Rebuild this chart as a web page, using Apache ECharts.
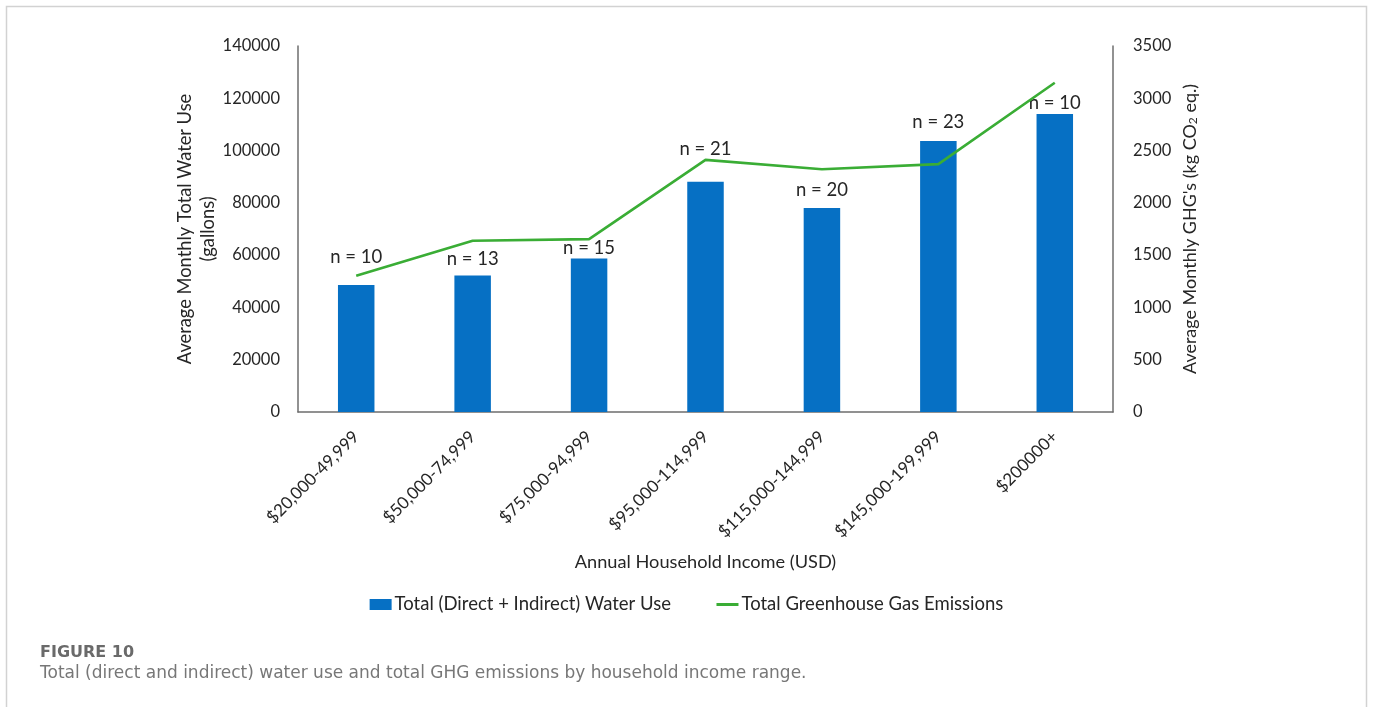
<!DOCTYPE html>
<html>
<head>
<meta charset="utf-8">
<title>Water use and GHG emissions by household income</title>
<script src="https://cdn.jsdelivr.net/npm/echarts@6/dist/echarts.min.js"></script>
<style>
  html, body { margin: 0; padding: 0; background: #ffffff; }
  #chart { width: 1373px; height: 707px; }
</style>
</head>
<body>
<div id="chart"></div>
<script>
// Income brackets on the category axis
const categories = [
  '$20,000-49,999', '$50,000-74,999', '$75,000-94,999', '$95,000-114,999',
  '$115,000-144,999', '$145,000-199,999', '$200000+'
];
// Average monthly total (direct + indirect) water use, gallons
const waterUse = [48600, 52200, 58700, 88100, 78000, 103700, 114000];
// Average monthly GHG emissions, kg CO2 eq.
const ghgEmissions = [1303, 1637, 1653, 2411, 2322, 2370, 3149];
// Households surveyed in each bracket
const sampleSizes = [10, 13, 15, 21, 20, 23, 10];
// Gap (px) between each bar top and its "n =" label
const labelLift = [18, 7, 1, 23, 9, 9, 1];

const leftTicks = { min: 0, max: 140000, interval: 20000 };
const rightTicks = { min: 0, max: 3500, interval: 500 };

const FONT = 'Lato';
const TEXT = '#262626';
const AXIS = '#6e6e6e';
const GREEN = '#3AAD35';

const chart = echarts.init(document.getElementById('chart'), null, { renderer: 'canvas' });

chart.setOption({
  backgroundColor: '#ffffff',
  animation: false,
  textStyle: { fontFamily: FONT },
  grid: { left: 298, right: 260, top: 46, bottom: 295, containLabel: false },
  graphic: [
    {
      type: 'rect', silent: true,
      shape: { x: 6.5, y: 6.5, width: 1360, height: 760 },
      style: { fill: 'none', stroke: '#d2d2d2', lineWidth: 1.5 }
    },
    {
      type: 'text', left: 40, top: 645,
      style: { text: 'FIGURE 10', font: 'bold 16px "DejaVu Sans"', fill: '#6a6a6a' }
    },
    {
      type: 'text', left: 40, top: 665,
      style: {
        text: 'Total (direct and indirect) water use and total GHG emissions by household income range.',
        font: '17px "DejaVu Sans"', fill: '#777777'
      }
    }
  ],
  legend: {
    left: 'center',
    top: 590,
    itemWidth: 22,
    itemHeight: 11,
    itemGap: 44,
    textStyle: { fontFamily: FONT, fontSize: 18.5, color: TEXT, padding: [0, 0, 0, -2] },
    data: [
      { name: 'Total (Direct + Indirect) Water Use', icon: 'rect' },
      { name: 'Total Greenhouse Gas Emissions', itemStyle: { opacity: 0 }, lineStyle: { width: 3, color: GREEN } }
    ]
  },
  xAxis: {
    type: 'category',
    data: categories,
    name: 'Annual Household Income (USD)',
    nameLocation: 'middle',
    nameGap: 141,
    nameMoveOverlap: false,
    nameTextStyle: { fontFamily: FONT, fontSize: 18.2, color: TEXT },
    axisLine: { lineStyle: { color: AXIS, width: 1.5 } },
    axisTick: { show: false },
    axisLabel: {
      rotate: 45, margin: 22, interval: 0,
      fontFamily: FONT, fontSize: 17, color: TEXT
    },
    splitLine: { show: false }
  },
  yAxis: [
    {
      type: 'value',
      min: leftTicks.min, max: leftTicks.max, interval: leftTicks.interval,
      name: 'Average Monthly Total Water Use\n(gallons)',
      nameLocation: 'middle',
      nameRotate: 90,
      nameGap: 78,
      nameMoveOverlap: false,
      nameTextStyle: { fontFamily: FONT, fontSize: 18.3, color: TEXT, lineHeight: 23 },
      axisLine: { show: true, lineStyle: { color: AXIS, width: 1.5 } },
      axisTick: { show: false },
      axisLabel: { margin: 18, fontFamily: FONT, fontSize: 16.5, color: TEXT, formatter: v => String(v) },
      splitLine: { show: false }
    },
    {
      type: 'value',
      position: 'right',
      min: rightTicks.min, max: rightTicks.max, interval: rightTicks.interval,
      name: "Average Monthly GHG's (kg CO{sub|2} eq.)",
      nameLocation: 'middle',
      nameRotate: 90,
      nameGap: 68,
      nameMoveOverlap: false,
      nameTextStyle: {
        fontFamily: FONT, fontSize: 18, color: TEXT,
        rich: { sub: { fontFamily: FONT, fontSize: 12, color: TEXT, verticalAlign: 'bottom', lineHeight: 14 } }
      },
      axisLine: { show: true, lineStyle: { color: AXIS, width: 1.5 } },
      axisTick: { show: false },
      axisLabel: { margin: 20, fontFamily: FONT, fontSize: 16.5, color: TEXT, formatter: v => String(v) },
      splitLine: { show: false }
    }
  ],
  series: [
    {
      name: 'Total (Direct + Indirect) Water Use',
      type: 'bar',
      yAxisIndex: 0,
      barWidth: 36.5,
      itemStyle: { color: '#0670C4' },
      data: waterUse.map((v, i) => ({ value: v, label: { distance: labelLift[i] } })),
      label: {
        show: true,
        position: 'top',
        fontFamily: FONT,
        fontSize: 18.5,
        color: TEXT,
        formatter: p => 'n = ' + sampleSizes[p.dataIndex]
      },
      z: 2
    },
    {
      name: 'Total Greenhouse Gas Emissions',
      type: 'line',
      yAxisIndex: 1,
      data: ghgEmissions,
      symbol: 'none',
      itemStyle: { color: GREEN },
      lineStyle: { color: GREEN, width: 2.6 },
      z: 3
    }
  ]
});
</script>
</body>
</html>
